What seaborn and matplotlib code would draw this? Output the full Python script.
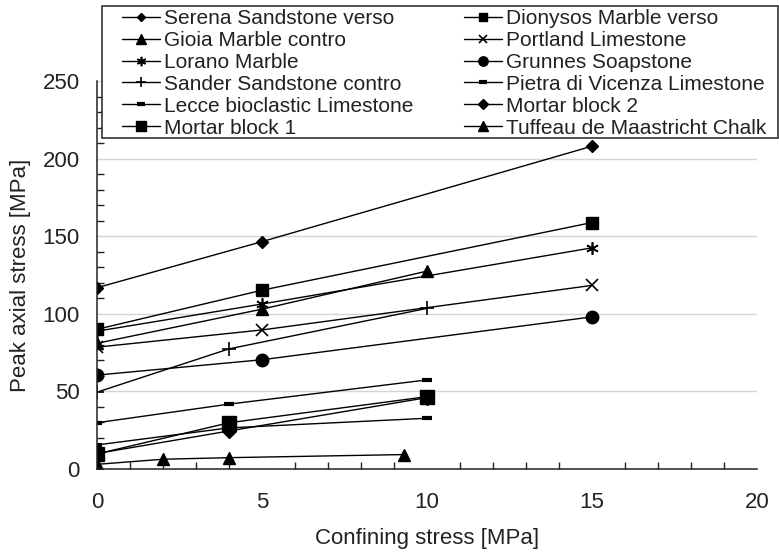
import matplotlib
matplotlib.use("Agg")
import matplotlib.pyplot as plt
from matplotlib.ticker import MultipleLocator
from matplotlib.patches import Rectangle
import seaborn as sns
import pandas as pd

# Peak axial stress [MPa] measured at each confining stress [MPa]
serena_x = [0, 5, 15]
serena_y = [116.8, 146.5, 208.0]
dionysos_x = [0, 5, 15]
dionysos_y = [90.0, 115.2, 158.8]
gioia_x = [0, 5, 10]
gioia_y = [81.0, 103.0, 127.5]
portland_x = [0, 5, 15]
portland_y = [78.5, 89.6, 118.3]
lorano_x = [0, 5, 15]
lorano_y = [88.8, 106.3, 142.5]
grunnes_x = [0, 5, 15]
grunnes_y = [60.5, 70.4, 98.0]
sander_x = [0, 4, 10]
sander_y = [49.5, 77.4, 103.5]
pietra_x = [0, 4, 10]
pietra_y = [29.8, 41.8, 57.4]
lecce_x = [0, 4, 10]
lecce_y = [15.5, 26.5, 32.7]
mortar2_x = [0, 4, 10]
mortar2_y = [10.0, 24.5, 46.0]
mortar1_x = [0, 4, 10]
mortar1_y = [9.7, 29.8, 46.6]
tuffeau_x = [0, 2, 4, 9.3]
tuffeau_y = [3.0, 6.3, 7.3, 9.3]

series_names = [
    "Serena Sandstone verso", "Dionysos Marble verso",
    "Gioia Marble contro", "Portland Limestone",
    "Lorano Marble", "Grunnes Soapstone",
    "Sander Sandstone contro", "Pietra di Vicenza Limestone",
    "Lecce bioclastic Limestone", "Mortar block 2",
    "Mortar block 1", "Tuffeau de Maastricht Chalk",
]
series_x = [serena_x, dionysos_x, gioia_x, portland_x, lorano_x, grunnes_x,
            sander_x, pietra_x, lecce_x, mortar2_x, mortar1_x, tuffeau_x]
series_y = [serena_y, dionysos_y, gioia_y, portland_y, lorano_y, grunnes_y,
            sander_y, pietra_y, lecce_y, mortar2_y, mortar1_y, tuffeau_y]

# marker, marker size, marker edge width
styles = [
    ("D", 6, 1.0), ("s", 8.5, 1.0),
    ("^", 9, 1.0), ("x", 8, 1.2),
    ((6, 2, 0), 9, 1.2), ("o", 9, 1.0),
    ("+", 10, 1.2), ("_", 7, 3.0),
    ("_", 7, 3.0), ("D", 7, 1.0),
    ("s", 10, 1.0), ("^", 9, 1.0),
]

frames = [pd.DataFrame({"confining": xs, "peak": ys, "material": name})
          for name, xs, ys in zip(series_names, series_x, series_y)]
data = pd.concat(frames, ignore_index=True)

sns.set_theme(style="white")
plt.rcParams["font.family"] = ["Liberation Sans", "DejaVu Sans"]

W, H = 779, 554
fig = plt.figure(figsize=(W / 100, H / 100), dpi=100)
ax = fig.add_axes([97 / W, 1 - 469 / H, 660 / W, 388 / H])

for name, (mk, ms, mew) in zip(series_names, styles):
    sub = data[data["material"] == name]
    sns.lineplot(data=sub, x="confining", y="peak", ax=ax, color="black",
                 linewidth=1.0, marker=mk, markersize=ms,
                 markeredgecolor="black", markerfacecolor="black",
                 markeredgewidth=mew, sort=False,
                 estimator=None, legend=False)

ax.set_xlim(0, 20)
ax.set_ylim(0, 250)
ax.xaxis.set_major_locator(MultipleLocator(5))
ax.xaxis.set_minor_locator(MultipleLocator(1))
ax.yaxis.set_major_locator(MultipleLocator(50))
ax.yaxis.set_minor_locator(MultipleLocator(10))

ax.grid(axis="y", which="major", color="#d4d4d4", linewidth=1.0)
ax.grid(axis="x", visible=False)
ax.set_axisbelow(True)

for side in ("top", "right"):
    ax.spines[side].set_visible(False)
for side in ("left", "bottom"):
    ax.spines[side].set_color("#222222")
    ax.spines[side].set_linewidth(1.1)

ax.tick_params(which="major", direction="inout", length=13, width=1.1,
               color="#222222", labelsize=16, labelcolor="#222222")
ax.tick_params(axis="x", which="major", pad=10)
ax.tick_params(axis="y", which="major", pad=6)
ax.tick_params(which="minor", direction="in", length=5, width=1.0,
               color="#222222", bottom=True, left=True)

ax.set_xlabel("Confining stress [MPa]", fontsize=16, color="#222222", labelpad=11)
ax.set_ylabel("Peak axial stress [MPa]", fontsize=16, color="#222222", labelpad=8)

# Legend box
fig.patches.append(Rectangle((102 / W, 1 - 138 / H), 676 / W, 132 / H,
                             transform=fig.transFigure, facecolor="white",
                             edgecolor="#222222", linewidth=1.1, zorder=5))

handles = []
for name, (mk, ms, mew) in zip(series_names, styles):
    h, = ax.plot([], [], color="black", linewidth=1.0, marker=mk,
                 markersize=ms * 0.75, markeredgecolor="black",
                 markerfacecolor="black", markeredgewidth=mew)
    handles.append(h)
order = list(range(0, 12, 2)) + list(range(1, 12, 2))
leg_handles = [handles[i] for i in order]
leg_labels = [series_names[i] for i in order]

LEG_FS = 15
fs_px = LEG_FS * 100 / 72


def make_legend(colspace):
    lg = fig.legend(leg_handles, leg_labels, loc="upper left",
                    bbox_to_anchor=(122 / W, 1 - 9 / H), ncol=2,
                    fontsize=LEG_FS, frameon=False, handlelength=1.8,
                    handletextpad=0.2, columnspacing=colspace,
                    labelspacing=0.14, borderpad=0.0, borderaxespad=0.0)
    lg.set_zorder(6)
    for t in lg.get_texts():
        t.set_color("#222222")
    return lg


leg = make_legend(2.0)
fig.canvas.draw()
renderer = fig.canvas.get_renderer()
col1_w = max(t.get_window_extent(renderer).width for t in leg.get_texts()[:6])
col1_start = leg.get_texts()[0].get_window_extent(renderer).x0
leg.remove()
gap = 464 - (col1_start + col1_w)
make_legend(max(gap, 4) / fs_px)

fig.savefig("out.png", dpi=100)
